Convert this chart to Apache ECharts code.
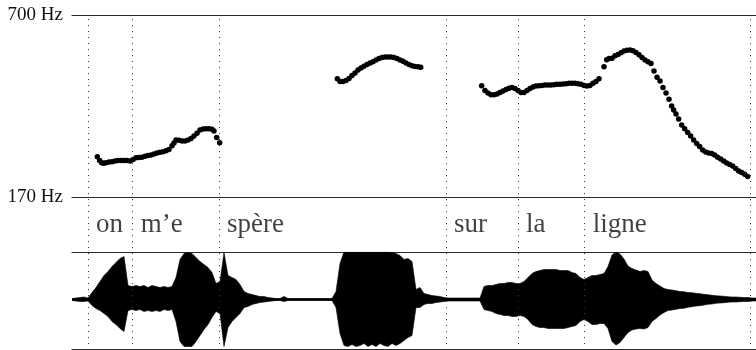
<!DOCTYPE html>
<html>
<head>
<meta charset="utf-8">
<script src="https://cdn.jsdelivr.net/npm/echarts@6/dist/echarts.min.js"></script>
<style>
html,body{margin:0;padding:0;background:#fff;}
#chart{width:756px;height:350px;}
</style>
</head>
<body>
<div id="chart"></div>
<script>
// time axis in milliseconds
const timeMax = 2052;

// word labels and their start boundaries (ms); last boundary = end of utterance
const words = ['on', 'm’e', 'spère', 'sur', 'la', 'ligne'];
const boundaries = [48, 182, 441, 1122, 1338, 1538, 2034];

// pitch axis tick labels
const pitchTicks = [170, 700];

// pitch track (ms, Hz)
const pitchTimes = [
  76,83,89,95,102,111,120,129,138,147,156,165,174,183,192,201,210,219,228,237,246,255,264,273,282,291,300,306,312,321,330,339,348,357,366,375,384,393,402,411,420,426,434,443,
  796,804,813,822,831,840,849,858,867,876,885,894,903,912,921,930,939,948,957,966,975,984,993,1002,1011,1020,1029,1038,1046,
  1229,1239,1248,1257,1266,1275,1284,1293,1302,1311,1320,1329,1338,1347,1356,1365,1374,1383,1392,1401,1410,1419,1428,1437,1446,1455,1464,1473,1482,1491,1500,1509,1518,1527,1536,1545,1554,1563,1572,1581,
  1596,1604,1611,1620,1629,1638,1647,1656,1665,1674,1683,1692,1701,1710,1719,1728,1737,1746,1755,1764,1773,1782,1791,1799,1805,1812,1820,1829,1838,1847,1856,1865,1874,1883,1892,1901,1910,1919,1928,1937,1946,1955,1964,1973,1982,1991,2000,2009,2018,2027
];
const pitchHz = [
  287,276,270,268,270,272,273,275,276,276,276,276,275,279,284,285,286,289,291,292,295,298,300,302,305,308,319,327,336,335,333,333,336,340,348,356,365,368,369,369,367,362,343,328,
  514,506,506,509,515,524,531,540,546,551,556,560,564,569,573,576,578,578,578,576,573,569,565,560,556,552,550,549,548,
  494,480,473,468,468,470,474,479,483,487,489,486,480,474,474,480,486,490,493,494,495,496,496,496,497,498,498,499,500,501,501,501,500,498,495,493,495,501,506,514,
  549,570,573,574,581,585,590,595,597,598,596,591,584,576,569,564,559,537,519,508,489,473,455,435,423,412,397,380,369,358,348,336,326,317,307,301,298,297,292,286,281,275,269,265,260,253,246,241,236,230
];

// waveform envelope (ms, arbitrary amplitude units)
const waveTimes = [
  0,12,24,36,48,60,72,84,96,108,120,132,144,156,168,180,192,204,216,228,240,252,264,276,288,300,312,324,336,348,360,372,384,396,408,420,432,444,456,468,480,492,504,516,528,540,552,564,576,588,600,612,624,636,648,660,672,684,696,708,720,732,744,756,768,780,792,804,816,828,840,852,864,876,888,900,912,924,936,948,960,972,984,996,1008,1020,1032,1044,1056,1068,1080,1092,1104,1116,1128,1140,1152,1164,1176,1188,1200,1212,1224,1236,1248,1260,1272,1284,1296,1308,1320,1332,1344,1356,1368,1380,1392,1404,1416,1428,1440,1452,1464,1476,1488,1500,1512,1524,1536,1548,1560,1572,1584,1596,1608,1620,1632,1644,1656,1668,1680,1692,1704,1716,1728,1740,1752,1764,1776,1788,1800,1812,1824,1836,1848,1860,1872,1884,1896,1908,1920,1932,1944,1956,1968,1980,1992,2004,2016,2028,2040,2052
];
const waveUpper = [
  1,1.5,2,2.5,1.5,7,12,18,24,28,33,37,41,43,14,
  13,14,13,14,12,14,13,12,13,12,13,
  22,40,46,47,46,42,38,35,32,27,16,
  18,47,24,22,20,15,
  8,6,5,4,3,3,2,1.5,
  1,1,3,1,1,1,1,1,1,1,1,1,1,1,1,
  8,36,
  47.5,47.5,47.5,47.5,47.5,47.5,47.5,47.5,47.5,47.5,47.5,47.5,
  47,46,44,40,41,38,
  10,12,6,5,4,3.5,3,2,
  1.5,1.5,1.5,1.5,1.5,1.5,1.5,1.5,1.5,
  13,14,14,15,16,16,17,17,16,16,18,
  22,26,28,29,30,30,30,30,29,29,29,27,26,22,
  20,22,24,24,25,26,
  33,44.5,47.5,45.5,40.5,33.5,31,29.5,28,29,28,
  19.5,16,13.5,11,10,9.5,8.8,8,7.8,7,6.8,6.2,5.8,
  5.2,4.8,4.2,3.8,3.5,3.2,2.8,2.5,2.5,2.2,2,2,1.5,1.5
];
const waveLower = [
  -1,-1.5,-2,-2,-1.5,-6,-9,-11,-14,-17,-22,-25,-29,-32,-11,
  -10,-11,-10,-12,-11,-12,-11,-12,-10,-11,-10,
  -22,-42,-47,-47,-47,-42,-36,-30,-25,-18,-12,
  -14,-47,-28,-22,-18,-14,
  -8,-7,-5,-4,-3,-2.5,-2,-1.5,
  -1,-1,-2,-1,-1,-1,-1,-1,-1,-1,-1,-1,-1,-1,-1,
  -8,-34,
  -46,-47,-45,-47,-46,-44,-47,-45,-47,-44,-46,-47,
  -44,-46,-44,-41,-38,-36,
  -8,-8,-5,-4,-4,-3,-2.5,-2,
  -1.5,-1.5,-1.5,-1.5,-1.5,-1.5,-1.5,-1.5,-1.5,
  -10,-11,-12,-14,-15,-16,-16,-17,-17,-16,-17,
  -20,-25,-27,-28,-28,-29,-29,-29,-29,-29,-28,-27,-26,-22,
  -20,-22,-25,-25,-24,-24,
  -29,-42,-45.5,-43,-38,-33,-30.5,-29.5,-29,-29.5,-28,
  -22,-19,-15.5,-13,-11,-10.5,-9.8,-9,-8.8,-7.8,-7.2,-6.5,-6.2,
  -5.5,-4.8,-4.5,-3.8,-3.5,-3.2,-2.8,-2.5,-2.5,-2.2,-2,-2,-1.5,-1.5
];

const serif = '"Liberation Serif", "DejaVu Serif", serif';
const lineCol = '#2a2a2a';

function frameAxis(gridIndex, position, showLine) {
  return {
    type: 'value', gridIndex: gridIndex, position: position, min: 0, max: timeMax,
    axisLine: { show: showLine, onZero: false, lineStyle: { color: lineCol, width: 1.2 } },
    axisTick: { show: false }, axisLabel: { show: false }, splitLine: { show: false }
  };
}
function hiddenY(gridIndex, min, max) {
  return {
    type: 'value', gridIndex: gridIndex, min: min, max: max, show: false,
    axisLine: { show: false, onZero: false }, splitLine: { show: false }
  };
}

const chart = echarts.init(document.getElementById('chart'), null, { renderer: 'canvas' });
chart.setOption({
  animation: false,
  backgroundColor: '#fff',
  grid: [
    { left: 72, right: 0, top: 15, height: 182 },
    { left: 72, right: 0, top: 197, height: 55 },
    { left: 72, right: 0, top: 252, height: 97 },
    { left: 72, right: 0, top: 15, height: 335 }
  ],
  xAxis: [
    frameAxis(0, 'bottom', true),
    frameAxis(0, 'top', true),
    frameAxis(1, 'bottom', false),
    frameAxis(2, 'top', true),
    frameAxis(2, 'bottom', true),
    frameAxis(3, 'bottom', false)
  ],
  yAxis: [
    {
      type: 'value', gridIndex: 0, min: pitchTicks[0], max: pitchTicks[1],
      interval: pitchTicks[1] - pitchTicks[0],
      axisLine: { show: false }, axisTick: { show: false }, splitLine: { show: false },
      axisLabel: {
        margin: 9, color: '#111', fontFamily: serif, fontSize: 19,
        formatter: function (v) { return v + ' Hz'; }
      }
    },
    hiddenY(1, 0, 1),
    hiddenY(2, -49.5, 47.5),
    hiddenY(3, 0, 1)
  ],
  series: [
    {
      type: 'line', xAxisIndex: 5, yAxisIndex: 3, data: [], silent: true,
      markLine: {
        silent: true, symbol: 'none', label: { show: false },
        lineStyle: { color: '#333', width: 1, type: [1, 5] },
        data: boundaries.map(function (t) { return { xAxis: t }; })
      }
    },
    {
      type: 'scatter', xAxisIndex: 0, yAxisIndex: 0, symbolSize: 5.5, silent: true,
      itemStyle: { color: '#000', opacity: 1 },
      data: pitchTimes.map(function (t, i) { return [t, pitchHz[i]]; })
    },
    {
      type: 'scatter', xAxisIndex: 2, yAxisIndex: 1, symbolSize: 0, silent: true,
      data: words.map(function (w, i) { return [boundaries[i], 0.5]; }),
      label: {
        show: true, position: 'right', distance: 8,
        color: '#111', fontFamily: serif, fontSize: 27,
        formatter: function (p) { return words[p.dataIndex]; }
      }
    },
    {
      type: 'line', xAxisIndex: 4, yAxisIndex: 2, symbol: 'none', silent: true,
      lineStyle: { color: '#000', width: 0.6 },
      areaStyle: { color: '#000', opacity: 1, origin: -1 },
      data: waveTimes.map(function (t, i) { return [t, waveUpper[i]]; })
    },
    {
      type: 'line', xAxisIndex: 4, yAxisIndex: 2, symbol: 'none', silent: true,
      lineStyle: { color: '#000', width: 0.6 },
      areaStyle: { color: '#000', opacity: 1, origin: 1 },
      data: waveTimes.map(function (t, i) { return [t, waveLower[i]]; })
    }
  ]
});
</script>
</body>
</html>
